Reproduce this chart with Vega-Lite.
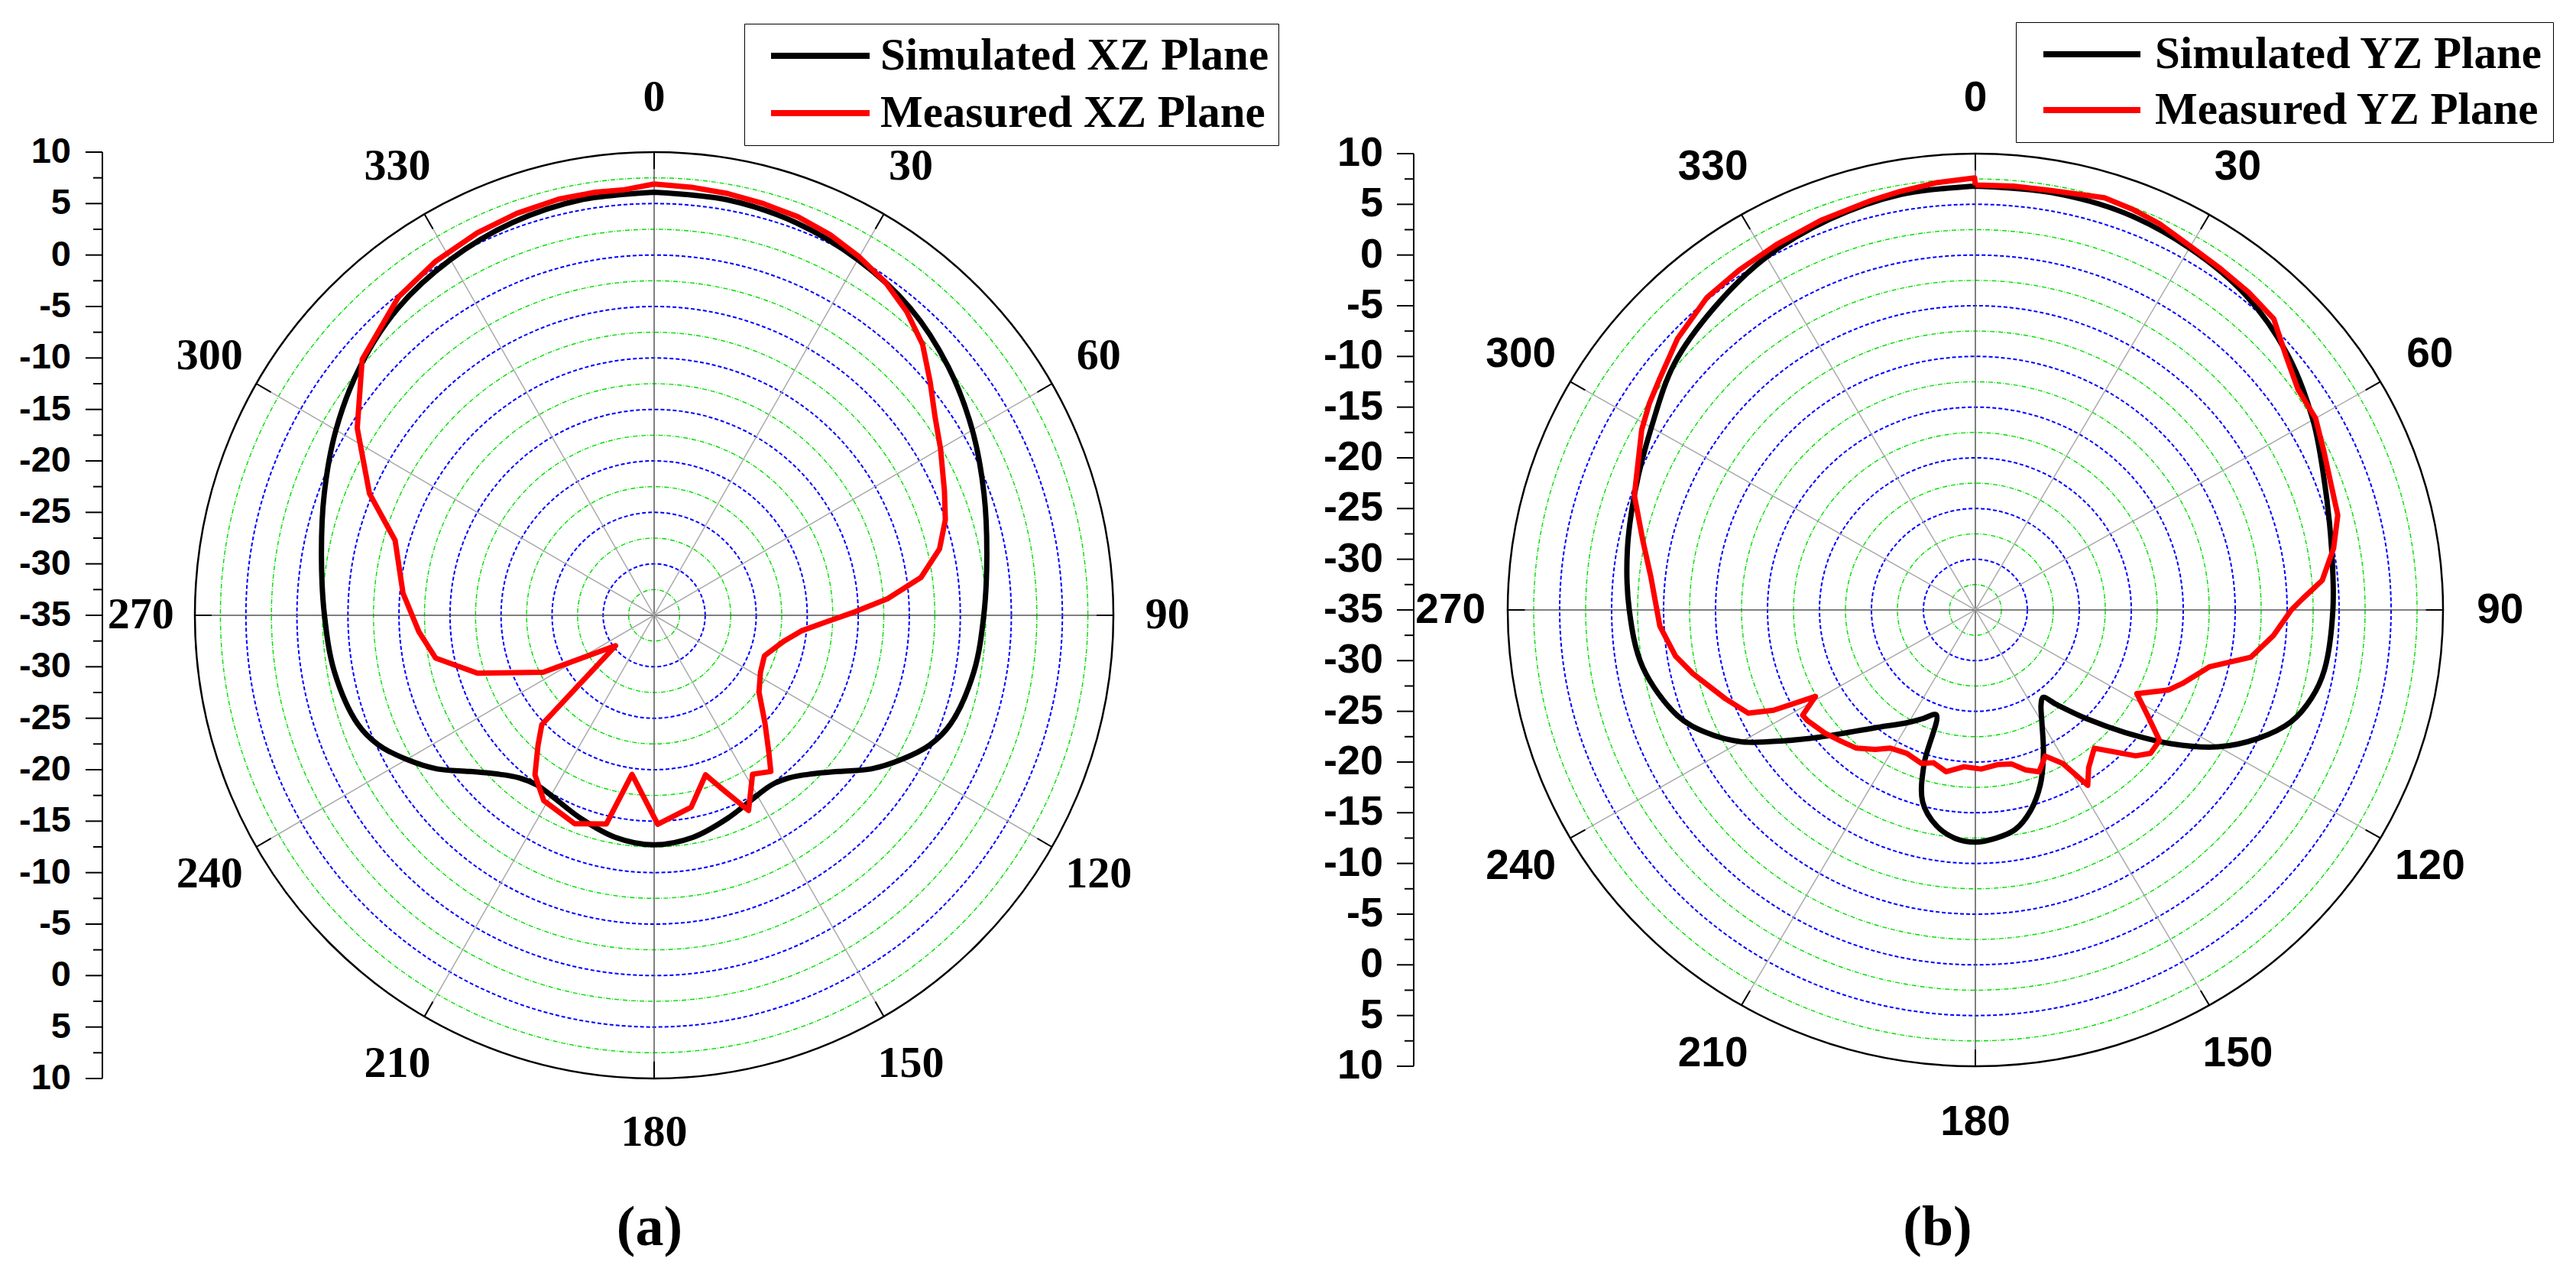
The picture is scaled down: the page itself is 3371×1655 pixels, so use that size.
{
  "$schema": "https://vega.github.io/schema/vega-lite/v6.json",
  "background": "white",
  "padding": 0,
  "spacing": 0,
  "bounds": "flush",
  "config": {"view": {"stroke": null}},
  "resolve": {"scale": {"x": "independent", "y": "independent", "color": "independent", "size": "independent"}},
  "datasets": {
    "ringsMinor": [{"r": 2.5}, {"r": 7.5}, {"r": 12.5}, {"r": 17.5}, {"r": 22.5}, {"r": 27.5}, {"r": 32.5}, {"r": 37.5}, {"r": 42.5}],
    "ringsMajor": [{"r": 5}, {"r": 10}, {"r": 15}, {"r": 20}, {"r": 25}, {"r": 30}, {"r": 35}, {"r": 40}],
    "ringOuter": [{"r": 45}],
    "axisTicks": [{"v": -45}, {"v": -42.5}, {"v": -40}, {"v": -37.5}, {"v": -35}, {"v": -32.5}, {"v": -30}, {"v": -27.5}, {"v": -25}, {"v": -22.5}, {"v": -20}, {"v": -17.5}, {"v": -15}, {"v": -12.5}, {"v": -10}, {"v": -7.5}, {"v": -5}, {"v": -2.5}, {"v": 0}, {"v": 2.5}, {"v": 5}, {"v": 7.5}, {"v": 10}, {"v": 12.5}, {"v": 15}, {"v": 17.5}, {"v": 20}, {"v": 22.5}, {"v": 25}, {"v": 27.5}, {"v": 30}, {"v": 32.5}, {"v": 35}, {"v": 37.5}, {"v": 40}, {"v": 42.5}, {"v": 45}],
    "spokes": [{"ang": 0}, {"ang": 30}, {"ang": 60}, {"ang": 90}, {"ang": 120}, {"ang": 150}, {"ang": 180}, {"ang": 210}, {"ang": 240}, {"ang": 270}, {"ang": 300}, {"ang": 330}],
    "aSim": [
      {"series": "Simulated XZ Plane", "ang": 0, "dB": 6.1}, {"series": "Simulated XZ Plane", "ang": 10, "dB": 6.0}, {"series": "Simulated XZ Plane", "ang": 20, "dB": 5.6}, {"series": "Simulated XZ Plane", "ang": 30, "dB": 4.9}, {"series": "Simulated XZ Plane", "ang": 40, "dB": 4.0}, {"series": "Simulated XZ Plane", "ang": 50, "dB": 2.6}, {"series": "Simulated XZ Plane", "ang": 60, "dB": 1.0}, {"series": "Simulated XZ Plane", "ang": 70, "dB": -0.6}, {"series": "Simulated XZ Plane", "ang": 80, "dB": -1.9}, {"series": "Simulated XZ Plane", "ang": 90, "dB": -2.7}, {"series": "Simulated XZ Plane", "ang": 100, "dB": -3.2}, {"series": "Simulated XZ Plane", "ang": 110, "dB": -4.1}, {"series": "Simulated XZ Plane", "ang": 115, "dB": -5.2}, {"series": "Simulated XZ Plane", "ang": 120, "dB": -7.0}, {"series": "Simulated XZ Plane", "ang": 125, "dB": -9.0}, {"series": "Simulated XZ Plane", "ang": 130, "dB": -11.4}, {"series": "Simulated XZ Plane", "ang": 135, "dB": -13.2}, {"series": "Simulated XZ Plane", "ang": 140, "dB": -14.4}, {"series": "Simulated XZ Plane", "ang": 145, "dB": -14.9}, {"series": "Simulated XZ Plane", "ang": 150, "dB": -14.8}, {"series": "Simulated XZ Plane", "ang": 160, "dB": -14.0}, {"series": "Simulated XZ Plane", "ang": 170, "dB": -13.1}, {"series": "Simulated XZ Plane", "ang": 180, "dB": -12.7}, {"series": "Simulated XZ Plane", "ang": 190, "dB": -13.1}, {"series": "Simulated XZ Plane", "ang": 200, "dB": -14.0}, {"series": "Simulated XZ Plane", "ang": 210, "dB": -14.8}, {"series": "Simulated XZ Plane", "ang": 215, "dB": -14.9}, {"series": "Simulated XZ Plane", "ang": 220, "dB": -14.4}, {"series": "Simulated XZ Plane", "ang": 225, "dB": -13.2}, {"series": "Simulated XZ Plane", "ang": 230, "dB": -11.4}, {"series": "Simulated XZ Plane", "ang": 235, "dB": -9.0}, {"series": "Simulated XZ Plane", "ang": 240, "dB": -7.0}, {"series": "Simulated XZ Plane", "ang": 245, "dB": -5.2}, {"series": "Simulated XZ Plane", "ang": 250, "dB": -4.1}, {"series": "Simulated XZ Plane", "ang": 260, "dB": -3.2}, {"series": "Simulated XZ Plane", "ang": 270, "dB": -2.7}, {"series": "Simulated XZ Plane", "ang": 280, "dB": -1.9}, {"series": "Simulated XZ Plane", "ang": 290, "dB": -0.6}, {"series": "Simulated XZ Plane", "ang": 300, "dB": 1.0}, {"series": "Simulated XZ Plane", "ang": 310, "dB": 2.6}, {"series": "Simulated XZ Plane", "ang": 320, "dB": 4.0}, {"series": "Simulated XZ Plane", "ang": 330, "dB": 4.9}, {"series": "Simulated XZ Plane", "ang": 340, "dB": 5.6}, {"series": "Simulated XZ Plane", "ang": 350, "dB": 6.0}, {"series": "Simulated XZ Plane", "ang": 360, "dB": 6.1}
    ],
    "aMeas": [
      {"series": "Measured XZ Plane", "ang": 0, "dB": 6.9}, {"series": "Measured XZ Plane", "ang": 5, "dB": 6.75}, {"series": "Measured XZ Plane", "ang": 10, "dB": 6.6}, {"series": "Measured XZ Plane", "ang": 15, "dB": 6.4}, {"series": "Measured XZ Plane", "ang": 20, "dB": 6.2}, {"series": "Measured XZ Plane", "ang": 25, "dB": 5.8}, {"series": "Measured XZ Plane", "ang": 30, "dB": 5.2}, {"series": "Measured XZ Plane", "ang": 35, "dB": 4.5}, {"series": "Measured XZ Plane", "ang": 40, "dB": 3.5}, {"series": "Measured XZ Plane", "ang": 45, "dB": 2.2}, {"series": "Measured XZ Plane", "ang": 50, "dB": 0.3}, {"series": "Measured XZ Plane", "ang": 55, "dB": -1.4}, {"series": "Measured XZ Plane", "ang": 60, "dB": -2.6}, {"series": "Measured XZ Plane", "ang": 67, "dB": -4.1}, {"series": "Measured XZ Plane", "ang": 72, "dB": -5.0}, {"series": "Measured XZ Plane", "ang": 77, "dB": -6.3}, {"series": "Measured XZ Plane", "ang": 82, "dB": -8.6}, {"series": "Measured XZ Plane", "ang": 86, "dB": -12.1}, {"series": "Measured XZ Plane", "ang": 89, "dB": -15.3}, {"series": "Measured XZ Plane", "ang": 92, "dB": -18.0}, {"series": "Measured XZ Plane", "ang": 96, "dB": -20.5}, {"series": "Measured XZ Plane", "ang": 101, "dB": -22.0}, {"series": "Measured XZ Plane", "ang": 110, "dB": -23.5}, {"series": "Measured XZ Plane", "ang": 118, "dB": -23.2}, {"series": "Measured XZ Plane", "ang": 126, "dB": -22.3}, {"series": "Measured XZ Plane", "ang": 134, "dB": -19.9}, {"series": "Measured XZ Plane", "ang": 140, "dB": -17.5}, {"series": "Measured XZ Plane", "ang": 143, "dB": -16.0}, {"series": "Measured XZ Plane", "ang": 148, "dB": -16.8}, {"series": "Measured XZ Plane", "ang": 154, "dB": -13.9}, {"series": "Measured XZ Plane", "ang": 158, "dB": -16.6}, {"series": "Measured XZ Plane", "ang": 162, "dB": -18.7}, {"series": "Measured XZ Plane", "ang": 169, "dB": -16.0}, {"series": "Measured XZ Plane", "ang": 179, "dB": -14.7}, {"series": "Measured XZ Plane", "ang": 188, "dB": -19.4}, {"series": "Measured XZ Plane", "ang": 193, "dB": -14.2}, {"series": "Measured XZ Plane", "ang": 201, "dB": -13.3}, {"series": "Measured XZ Plane", "ang": 211, "dB": -14.0}, {"series": "Measured XZ Plane", "ang": 217, "dB": -15.6}, {"series": "Measured XZ Plane", "ang": 222, "dB": -18.0}, {"series": "Measured XZ Plane", "ang": 226, "dB": -19.7}, {"series": "Measured XZ Plane", "ang": 232, "dB": -30.2}, {"series": "Measured XZ Plane", "ang": 243, "dB": -22.8}, {"series": "Measured XZ Plane", "ang": 252, "dB": -16.8}, {"series": "Measured XZ Plane", "ang": 259, "dB": -13.2}, {"series": "Measured XZ Plane", "ang": 266, "dB": -11.9}, {"series": "Measured XZ Plane", "ang": 275, "dB": -10.3}, {"series": "Measured XZ Plane", "ang": 286, "dB": -8.6}, {"series": "Measured XZ Plane", "ang": 293, "dB": -4.7}, {"series": "Measured XZ Plane", "ang": 302, "dB": -0.7}, {"series": "Measured XZ Plane", "ang": 311, "dB": 2.9}, {"series": "Measured XZ Plane", "ang": 321, "dB": 4.8}, {"series": "Measured XZ Plane", "ang": 328, "dB": 5.5}, {"series": "Measured XZ Plane", "ang": 335, "dB": 6.0}, {"series": "Measured XZ Plane", "ang": 341, "dB": 6.3}, {"series": "Measured XZ Plane", "ang": 347, "dB": 6.5}, {"series": "Measured XZ Plane", "ang": 352, "dB": 6.5}, {"series": "Measured XZ Plane", "ang": 356, "dB": 6.45}, {"series": "Measured XZ Plane", "ang": 360, "dB": 6.9}
    ],
    "bSim": [
      {"series": "Simulated YZ Plane", "ang": 0, "dB": 6.8}, {"series": "Simulated YZ Plane", "ang": 10, "dB": 6.8}, {"series": "Simulated YZ Plane", "ang": 20, "dB": 6.7}, {"series": "Simulated YZ Plane", "ang": 30, "dB": 6.2}, {"series": "Simulated YZ Plane", "ang": 40, "dB": 5.5}, {"series": "Simulated YZ Plane", "ang": 50, "dB": 4.2}, {"series": "Simulated YZ Plane", "ang": 60, "dB": 2.5}, {"series": "Simulated YZ Plane", "ang": 70, "dB": 0.8}, {"series": "Simulated YZ Plane", "ang": 80, "dB": -0.2}, {"series": "Simulated YZ Plane", "ang": 90, "dB": -0.6}, {"series": "Simulated YZ Plane", "ang": 100, "dB": -0.9}, {"series": "Simulated YZ Plane", "ang": 105, "dB": -1.5}, {"series": "Simulated YZ Plane", "ang": 110, "dB": -2.7}, {"series": "Simulated YZ Plane", "ang": 115, "dB": -5.0}, {"series": "Simulated YZ Plane", "ang": 120, "dB": -8.0}, {"series": "Simulated YZ Plane", "ang": 125, "dB": -12.0}, {"series": "Simulated YZ Plane", "ang": 130, "dB": -16.2}, {"series": "Simulated YZ Plane", "ang": 135, "dB": -19.8}, {"series": "Simulated YZ Plane", "ang": 140, "dB": -22.8}, {"series": "Simulated YZ Plane", "ang": 143, "dB": -24.2}, {"series": "Simulated YZ Plane", "ang": 146, "dB": -23.7}, {"series": "Simulated YZ Plane", "ang": 150, "dB": -22.2}, {"series": "Simulated YZ Plane", "ang": 155, "dB": -19.5}, {"series": "Simulated YZ Plane", "ang": 160, "dB": -16.7}, {"series": "Simulated YZ Plane", "ang": 165, "dB": -14.5}, {"series": "Simulated YZ Plane", "ang": 170, "dB": -13.0}, {"series": "Simulated YZ Plane", "ang": 175, "dB": -12.4}, {"series": "Simulated YZ Plane", "ang": 180, "dB": -12.1}, {"series": "Simulated YZ Plane", "ang": 185, "dB": -12.4}, {"series": "Simulated YZ Plane", "ang": 190, "dB": -13.4}, {"series": "Simulated YZ Plane", "ang": 195, "dB": -15.4}, {"series": "Simulated YZ Plane", "ang": 198, "dB": -19.0}, {"series": "Simulated YZ Plane", "ang": 200, "dB": -24.0}, {"series": "Simulated YZ Plane", "ang": 205, "dB": -23.2}, {"series": "Simulated YZ Plane", "ang": 210, "dB": -22.2}, {"series": "Simulated YZ Plane", "ang": 220, "dB": -19.8}, {"series": "Simulated YZ Plane", "ang": 230, "dB": -15.5}, {"series": "Simulated YZ Plane", "ang": 235, "dB": -12.5}, {"series": "Simulated YZ Plane", "ang": 240, "dB": -9.0}, {"series": "Simulated YZ Plane", "ang": 245, "dB": -6.4}, {"series": "Simulated YZ Plane", "ang": 250, "dB": -4.5}, {"series": "Simulated YZ Plane", "ang": 260, "dB": -2.5}, {"series": "Simulated YZ Plane", "ang": 270, "dB": -1.7}, {"series": "Simulated YZ Plane", "ang": 280, "dB": -1.0}, {"series": "Simulated YZ Plane", "ang": 290, "dB": -0.2}, {"series": "Simulated YZ Plane", "ang": 300, "dB": 1.0}, {"series": "Simulated YZ Plane", "ang": 310, "dB": 2.8}, {"series": "Simulated YZ Plane", "ang": 320, "dB": 4.0}, {"series": "Simulated YZ Plane", "ang": 330, "dB": 5.2}, {"series": "Simulated YZ Plane", "ang": 340, "dB": 6.0}, {"series": "Simulated YZ Plane", "ang": 350, "dB": 6.6}, {"series": "Simulated YZ Plane", "ang": 360, "dB": 6.8}
    ],
    "bMeas": [
      {"series": "Measured YZ Plane", "ang": 0, "dB": 6.9}, {"series": "Measured YZ Plane", "ang": 5, "dB": 6.95}, {"series": "Measured YZ Plane", "ang": 10, "dB": 7.0}, {"series": "Measured YZ Plane", "ang": 17, "dB": 7.5}, {"series": "Measured YZ Plane", "ang": 21, "dB": 7.3}, {"series": "Measured YZ Plane", "ang": 25, "dB": 7.0}, {"series": "Measured YZ Plane", "ang": 30, "dB": 6.4}, {"series": "Measured YZ Plane", "ang": 35, "dB": 6.1}, {"series": "Measured YZ Plane", "ang": 40, "dB": 5.9}, {"series": "Measured YZ Plane", "ang": 45, "dB": 5.6}, {"series": "Measured YZ Plane", "ang": 50, "dB": 4.0}, {"series": "Measured YZ Plane", "ang": 55, "dB": 2.9}, {"series": "Measured YZ Plane", "ang": 60, "dB": 2.8}, {"series": "Measured YZ Plane", "ang": 65, "dB": 2.0}, {"series": "Measured YZ Plane", "ang": 70, "dB": 1.4}, {"series": "Measured YZ Plane", "ang": 75, "dB": 1.1}, {"series": "Measured YZ Plane", "ang": 80, "dB": 0.0}, {"series": "Measured YZ Plane", "ang": 85, "dB": -1.5}, {"series": "Measured YZ Plane", "ang": 88, "dB": -3.5}, {"series": "Measured YZ Plane", "ang": 90, "dB": -4.6}, {"series": "Measured YZ Plane", "ang": 95, "dB": -6.2}, {"series": "Measured YZ Plane", "ang": 100, "dB": -8.1}, {"series": "Measured YZ Plane", "ang": 104, "dB": -11.8}, {"series": "Measured YZ Plane", "ang": 110, "dB": -13.8}, {"series": "Measured YZ Plane", "ang": 113, "dB": -14.8}, {"series": "Measured YZ Plane", "ang": 118, "dB": -17.4}, {"series": "Measured YZ Plane", "ang": 122, "dB": -15.5}, {"series": "Measured YZ Plane", "ang": 126, "dB": -13.1}, {"series": "Measured YZ Plane", "ang": 130, "dB": -13.0}, {"series": "Measured YZ Plane", "ang": 133, "dB": -13.9}, {"series": "Measured YZ Plane", "ang": 140, "dB": -17.2}, {"series": "Measured YZ Plane", "ang": 145, "dB": -16.0}, {"series": "Measured YZ Plane", "ang": 148, "dB": -14.6}, {"series": "Measured YZ Plane", "ang": 151, "dB": -17.7}, {"series": "Measured YZ Plane", "ang": 155, "dB": -19.1}, {"series": "Measured YZ Plane", "ang": 159, "dB": -17.9}, {"series": "Measured YZ Plane", "ang": 163, "dB": -18.5}, {"series": "Measured YZ Plane", "ang": 167, "dB": -19.4}, {"series": "Measured YZ Plane", "ang": 172, "dB": -19.6}, {"series": "Measured YZ Plane", "ang": 178, "dB": -19.3}, {"series": "Measured YZ Plane", "ang": 184, "dB": -19.5}, {"series": "Measured YZ Plane", "ang": 190, "dB": -18.8}, {"series": "Measured YZ Plane", "ang": 195, "dB": -19.4}, {"series": "Measured YZ Plane", "ang": 199, "dB": -19.0}, {"series": "Measured YZ Plane", "ang": 205, "dB": -19.4}, {"series": "Measured YZ Plane", "ang": 211, "dB": -19.1}, {"series": "Measured YZ Plane", "ang": 215, "dB": -18.2}, {"series": "Measured YZ Plane", "ang": 220, "dB": -17.2}, {"series": "Measured YZ Plane", "ang": 225, "dB": -16.7}, {"series": "Measured YZ Plane", "ang": 230, "dB": -16.1}, {"series": "Measured YZ Plane", "ang": 236, "dB": -15.5}, {"series": "Measured YZ Plane", "ang": 238, "dB": -15.4}, {"series": "Measured YZ Plane", "ang": 241, "dB": -17.4}, {"series": "Measured YZ Plane", "ang": 243, "dB": -13.2}, {"series": "Measured YZ Plane", "ang": 245, "dB": -10.9}, {"series": "Measured YZ Plane", "ang": 250, "dB": -9.4}, {"series": "Measured YZ Plane", "ang": 257, "dB": -7.1}, {"series": "Measured YZ Plane", "ang": 261, "dB": -5.8}, {"series": "Measured YZ Plane", "ang": 267, "dB": -4.6}, {"series": "Measured YZ Plane", "ang": 276, "dB": -3.6}, {"series": "Measured YZ Plane", "ang": 282, "dB": -2.3}, {"series": "Measured YZ Plane", "ang": 289, "dB": -0.3}, {"series": "Measured YZ Plane", "ang": 299, "dB": 1.7}, {"series": "Measured YZ Plane", "ang": 303, "dB": 2.4}, {"series": "Measured YZ Plane", "ang": 307, "dB": 3.0}, {"series": "Measured YZ Plane", "ang": 313, "dB": 4.2}, {"series": "Measured YZ Plane", "ang": 320, "dB": 5.2}, {"series": "Measured YZ Plane", "ang": 326, "dB": 5.5}, {"series": "Measured YZ Plane", "ang": 332, "dB": 5.8}, {"series": "Measured YZ Plane", "ang": 339, "dB": 6.2}, {"series": "Measured YZ Plane", "ang": 346, "dB": 6.6}, {"series": "Measured YZ Plane", "ang": 350, "dB": 6.9}, {"series": "Measured YZ Plane", "ang": 355, "dB": 7.3}, {"series": "Measured YZ Plane", "ang": 359.9, "dB": 7.6}, {"series": "Measured YZ Plane", "ang": 360, "dB": 6.9}
    ]
  },
  "hconcat": [
    {
      "width": 1700,
      "height": 1545,
      "title": {"text": "(a)", "orient": "bottom", "frame": "group", "offset": 26, "anchor": "middle", "font": "Liberation Serif", "fontSize": 74, "fontWeight": "bold", "color": "black"},
      "layer": [
        {
          "data": {"name": "ringsMinor"},
          "mark": {"type": "point", "shape": "M1,0C1,0.5569 0.5523,1.0083 0,1.0083C-0.5523,1.0083 -1,0.5569 -1,0C-1,-0.5569 -0.5523,-1.0083 0,-1.0083C0.5523,-1.0083 1,-0.5569 1,0Z", "filled": false, "color": "#00dd00", "strokeWidth": 1.4, "strokeDash": [6, 2, 1, 2], "opacity": 1},
          "encoding": {
            "x": {"datum": 0, "type": "quantitative", "scale": {"domain": [-64.09, 63.19], "nice": false, "zero": false}, "axis": null},
            "y": {"datum": 0, "type": "quantitative", "scale": {"domain": [-54.95, 59.776], "nice": false, "zero": false}, "axis": null},
            "size": {"field": "r", "type": "quantitative", "scale": {"type": "pow", "exponent": 2, "domain": [0, 45], "range": [0, 1444804], "zero": true}, "legend": null}
          }
        },
        {
          "data": {"name": "ringsMajor"},
          "mark": {"type": "point", "shape": "M1,0C1,0.5569 0.5523,1.0083 0,1.0083C-0.5523,1.0083 -1,0.5569 -1,0C-1,-0.5569 -0.5523,-1.0083 0,-1.0083C0.5523,-1.0083 1,-0.5569 1,0Z", "filled": false, "color": "#0000ff", "strokeWidth": 2, "strokeDash": [5, 3], "opacity": 1},
          "encoding": {
            "x": {"datum": 0, "type": "quantitative", "axis": null},
            "y": {"datum": 0, "type": "quantitative", "axis": null},
            "size": {"field": "r", "type": "quantitative", "legend": null}
          }
        },
        {
          "data": {"name": "spokes"},
          "transform": [{"calculate": "0", "as": "cx"}, {"calculate": "0", "as": "cy"}, {"calculate": "45*sin(datum.ang*PI/180)", "as": "sx"}, {"calculate": "45*cos(datum.ang*PI/180)", "as": "sy"}],
          "mark": {"type": "rule", "strokeWidth": 1.5},
          "encoding": {
            "x": {"field": "cx", "type": "quantitative", "axis": null},
            "y": {"field": "cy", "type": "quantitative", "axis": null},
            "x2": {"field": "sx"},
            "y2": {"field": "sy"},
            "color": {"condition": {"test": "datum.ang % 90 === 0", "value": "#555555"}, "value": "#aaaaaa"}
          }
        },
        {
          "data": {"name": "ringOuter"},
          "mark": {"type": "point", "shape": "M1,0C1,0.5569 0.5523,1.0083 0,1.0083C-0.5523,1.0083 -1,0.5569 -1,0C-1,-0.5569 -0.5523,-1.0083 0,-1.0083C0.5523,-1.0083 1,-0.5569 1,0Z", "filled": false, "color": "black", "strokeWidth": 2.5, "opacity": 1},
          "encoding": {
            "x": {"datum": 0, "type": "quantitative", "axis": null},
            "y": {"datum": 0, "type": "quantitative", "axis": null},
            "size": {"field": "r", "type": "quantitative", "legend": null}
          }
        },
        {
          "data": {"name": "spokes"},
          "transform": [
            {"calculate": "43.35*sin(datum.ang*PI/180)", "as": "tx1"}, {"calculate": "43.35*cos(datum.ang*PI/180)", "as": "ty1"},
            {"calculate": "45*sin(datum.ang*PI/180)", "as": "tx2"}, {"calculate": "45*cos(datum.ang*PI/180)", "as": "ty2"}],
          "mark": {"type": "rule", "strokeWidth": 2, "color": "black"},
          "encoding": {
            "x": {"field": "tx1", "type": "quantitative", "axis": null},
            "y": {"field": "ty1", "type": "quantitative", "axis": null},
            "x2": {"field": "tx2"},
            "y2": {"field": "ty2"}
          }
        },
        {
          "data": {"name": "ringOuter"},
          "transform": [{"calculate": "-54.06", "as": "ax"}, {"calculate": "-datum.r", "as": "ylo"}, {"calculate": "datum.r", "as": "yhi"}],
          "mark": {"type": "rule", "strokeWidth": 2, "color": "black"},
          "encoding": {
            "x": {"field": "ax", "type": "quantitative", "axis": null},
            "y": {"field": "ylo", "type": "quantitative", "axis": null},
            "y2": {"field": "yhi"}
          }
        },
        {
          "data": {"name": "axisTicks"},
          "transform": [{"calculate": "-54.06", "as": "ax1"}, {"calculate": "datum.v % 5 === 0 ? -55.71 : -54.96", "as": "ax2"}],
          "mark": {"type": "rule", "strokeWidth": 2, "color": "black"},
          "encoding": {
            "x": {"field": "ax1", "type": "quantitative", "axis": null},
            "x2": {"field": "ax2"},
            "y": {"field": "v", "type": "quantitative", "axis": null}
          }
        },
        {
          "data": {"name": "axisTicks"},
          "transform": [{"filter": "datum.v % 5 === 0"}, {"calculate": "abs(datum.v) - 35", "as": "lab"}, {"calculate": "-57.13", "as": "lxp"}],
          "mark": {"type": "text", "align": "right", "baseline": "middle", "font": "Liberation Sans", "fontWeight": "bold", "fontSize": 47, "color": "black"},
          "encoding": {
            "x": {"field": "lxp", "type": "quantitative", "axis": null},
            "y": {"field": "v", "type": "quantitative", "axis": null},
            "text": {"field": "lab", "type": "nominal"}
          }
        },
        {
          "data": {"name": "spokes"},
          "transform": [{"calculate": "50.3*sin(datum.ang*PI/180)", "as": "lx"}, {"calculate": "50.3*cos(datum.ang*PI/180)", "as": "ly"}],
          "mark": {"type": "text", "align": "center", "baseline": "middle", "font": "Liberation Serif", "fontWeight": "bold", "fontSize": 58, "color": "black"},
          "encoding": {
            "x": {"field": "lx", "type": "quantitative", "axis": null},
            "y": {"field": "ly", "type": "quantitative", "axis": null},
            "text": {"field": "ang", "type": "nominal"}
          }
        },
        {
          "data": {"name": "aSim"},
          "transform": [{"calculate": "(datum.dB + 35)*sin(datum.ang*PI/180)", "as": "gx"}, {"calculate": "(datum.dB + 35)*cos(datum.ang*PI/180)", "as": "gy"}],
          "mark": {"type": "line", "strokeWidth": 7, "interpolate": "catmull-rom", "strokeJoin": "round"},
          "encoding": {
            "x": {"field": "gx", "type": "quantitative", "axis": null},
            "y": {"field": "gy", "type": "quantitative", "axis": null},
            "order": {"field": "ang", "type": "quantitative"},
            "color": {"field": "series", "type": "nominal", "scale": {"domain": ["Simulated XZ Plane", "Measured XZ Plane"], "range": ["black", "#ff0000"]},
              "legend": {"title": null, "orient": "none", "legendX": 974, "legendY": 31, "direction": "vertical", "strokeColor": "black", "fillColor": "white", "padding": 12, "symbolType": "stroke", "symbolSize": 16641, "symbolStrokeWidth": 8, "symbolOffset": 19, "labelOffset": 10, "labelFont": "Liberation Serif", "labelFontWeight": "bold", "labelFontSize": 59, "labelColor": "black", "labelLimit": 800, "rowPadding": 15, "clipHeight": 60}}
          }
        },
        {
          "data": {"name": "aMeas"},
          "transform": [{"calculate": "(datum.dB + 35)*sin(datum.ang*PI/180)", "as": "gx"}, {"calculate": "(datum.dB + 35)*cos(datum.ang*PI/180)", "as": "gy"}],
          "mark": {"type": "line", "strokeWidth": 7, "strokeJoin": "round"},
          "encoding": {
            "x": {"field": "gx", "type": "quantitative", "axis": null},
            "y": {"field": "gy", "type": "quantitative", "axis": null},
            "order": {"field": "ang", "type": "quantitative"},
            "color": {"field": "series", "type": "nominal", "scale": {"domain": ["Simulated XZ Plane", "Measured XZ Plane"], "range": ["black", "#ff0000"]},
              "legend": {"title": null, "orient": "none", "legendX": 974, "legendY": 31, "direction": "vertical", "strokeColor": "black", "fillColor": "white", "padding": 12, "symbolType": "stroke", "symbolSize": 16641, "symbolStrokeWidth": 8, "symbolOffset": 19, "labelOffset": 10, "labelFont": "Liberation Serif", "labelFontWeight": "bold", "labelFontSize": 59, "labelColor": "black", "labelLimit": 800, "rowPadding": 15, "clipHeight": 60}}
          }
        }
      ]
    },
    {
      "width": 1671,
      "height": 1545,
      "title": {"text": "(b)", "orient": "bottom", "frame": "group", "offset": 26, "anchor": "middle", "font": "Liberation Serif", "fontSize": 74, "fontWeight": "bold", "color": "black"},
      "layer": [
        {
          "data": {"name": "ringsMinor"},
          "mark": {"type": "point", "shape": "M1,0C1,0.5388 0.5523,0.9755 0,0.9755C-0.5523,0.9755 -1,0.5388 -1,0C-1,-0.5388 -0.5523,-0.9755 0,-0.9755C0.5523,-0.9755 1,-0.5388 1,0Z", "filled": false, "color": "#00dd00", "strokeWidth": 1.4, "strokeDash": [6, 2, 1, 2], "opacity": 1},
          "encoding": {
            "x": {"datum": 0, "type": "quantitative", "scale": {"domain": [-65.07, 57.79], "nice": false, "zero": false}, "axis": null},
            "y": {"datum": 0, "type": "quantitative", "scale": {"domain": [-56.31, 60.15], "nice": false, "zero": false}, "axis": null},
            "size": {"field": "r", "type": "quantitative", "scale": {"type": "pow", "exponent": 2, "domain": [0, 45], "range": [0, 1498176], "zero": true}, "legend": null}
          }
        },
        {
          "data": {"name": "ringsMajor"},
          "mark": {"type": "point", "shape": "M1,0C1,0.5388 0.5523,0.9755 0,0.9755C-0.5523,0.9755 -1,0.5388 -1,0C-1,-0.5388 -0.5523,-0.9755 0,-0.9755C0.5523,-0.9755 1,-0.5388 1,0Z", "filled": false, "color": "#0000ff", "strokeWidth": 2, "strokeDash": [5, 3], "opacity": 1},
          "encoding": {
            "x": {"datum": 0, "type": "quantitative", "axis": null},
            "y": {"datum": 0, "type": "quantitative", "axis": null},
            "size": {"field": "r", "type": "quantitative", "legend": null}
          }
        },
        {
          "data": {"name": "spokes"},
          "transform": [{"calculate": "0", "as": "cx"}, {"calculate": "0", "as": "cy"}, {"calculate": "45*sin(datum.ang*PI/180)", "as": "sx"}, {"calculate": "45*cos(datum.ang*PI/180)", "as": "sy"}],
          "mark": {"type": "rule", "strokeWidth": 1.5},
          "encoding": {
            "x": {"field": "cx", "type": "quantitative", "axis": null},
            "y": {"field": "cy", "type": "quantitative", "axis": null},
            "x2": {"field": "sx"},
            "y2": {"field": "sy"},
            "color": {"condition": {"test": "datum.ang % 90 === 0", "value": "#555555"}, "value": "#aaaaaa"}
          }
        },
        {
          "data": {"name": "ringOuter"},
          "mark": {"type": "point", "shape": "M1,0C1,0.5388 0.5523,0.9755 0,0.9755C-0.5523,0.9755 -1,0.5388 -1,0C-1,-0.5388 -0.5523,-0.9755 0,-0.9755C0.5523,-0.9755 1,-0.5388 1,0Z", "filled": false, "color": "black", "strokeWidth": 2.5, "opacity": 1},
          "encoding": {
            "x": {"datum": 0, "type": "quantitative", "axis": null},
            "y": {"datum": 0, "type": "quantitative", "axis": null},
            "size": {"field": "r", "type": "quantitative", "legend": null}
          }
        },
        {
          "data": {"name": "spokes"},
          "transform": [
            {"calculate": "43.35*sin(datum.ang*PI/180)", "as": "tx1"}, {"calculate": "43.35*cos(datum.ang*PI/180)", "as": "ty1"},
            {"calculate": "45*sin(datum.ang*PI/180)", "as": "tx2"}, {"calculate": "45*cos(datum.ang*PI/180)", "as": "ty2"}],
          "mark": {"type": "rule", "strokeWidth": 2, "color": "black"},
          "encoding": {
            "x": {"field": "tx1", "type": "quantitative", "axis": null},
            "y": {"field": "ty1", "type": "quantitative", "axis": null},
            "x2": {"field": "tx2"},
            "y2": {"field": "ty2"}
          }
        },
        {
          "data": {"name": "ringOuter"},
          "transform": [{"calculate": "-54.04", "as": "ax"}, {"calculate": "-datum.r", "as": "ylo"}, {"calculate": "datum.r", "as": "yhi"}],
          "mark": {"type": "rule", "strokeWidth": 2, "color": "black"},
          "encoding": {
            "x": {"field": "ax", "type": "quantitative", "axis": null},
            "y": {"field": "ylo", "type": "quantitative", "axis": null},
            "y2": {"field": "yhi"}
          }
        },
        {
          "data": {"name": "axisTicks"},
          "transform": [{"calculate": "-54.04", "as": "ax1"}, {"calculate": "datum.v % 5 === 0 ? -55.66 : -54.92", "as": "ax2"}],
          "mark": {"type": "rule", "strokeWidth": 2, "color": "black"},
          "encoding": {
            "x": {"field": "ax1", "type": "quantitative", "axis": null},
            "x2": {"field": "ax2"},
            "y": {"field": "v", "type": "quantitative", "axis": null}
          }
        },
        {
          "data": {"name": "axisTicks"},
          "transform": [{"filter": "datum.v % 5 === 0"}, {"calculate": "abs(datum.v) - 35", "as": "lab"}, {"calculate": "-56.98", "as": "lxp"}],
          "mark": {"type": "text", "align": "right", "baseline": "middle", "font": "Liberation Sans", "fontWeight": "bold", "fontSize": 54, "color": "black"},
          "encoding": {
            "x": {"field": "lxp", "type": "quantitative", "axis": null},
            "y": {"field": "v", "type": "quantitative", "axis": null},
            "text": {"field": "lab", "type": "nominal"}
          }
        },
        {
          "data": {"name": "spokes"},
          "transform": [{"calculate": "50.5*sin(datum.ang*PI/180)", "as": "lx"}, {"calculate": "50.5*cos(datum.ang*PI/180)", "as": "ly"}],
          "mark": {"type": "text", "align": "center", "baseline": "middle", "font": "Liberation Sans", "fontWeight": "bold", "fontSize": 55, "color": "black"},
          "encoding": {
            "x": {"field": "lx", "type": "quantitative", "axis": null},
            "y": {"field": "ly", "type": "quantitative", "axis": null},
            "text": {"field": "ang", "type": "nominal"}
          }
        },
        {
          "data": {"name": "bSim"},
          "transform": [{"calculate": "(datum.dB + 35)*sin(datum.ang*PI/180)", "as": "gx"}, {"calculate": "(datum.dB + 35)*cos(datum.ang*PI/180)", "as": "gy"}],
          "mark": {"type": "line", "strokeWidth": 7, "interpolate": "catmull-rom", "strokeJoin": "round"},
          "encoding": {
            "x": {"field": "gx", "type": "quantitative", "axis": null},
            "y": {"field": "gy", "type": "quantitative", "axis": null},
            "order": {"field": "ang", "type": "quantitative"},
            "color": {"field": "series", "type": "nominal", "scale": {"domain": ["Simulated YZ Plane", "Measured YZ Plane"], "range": ["black", "#ff0000"]},
              "legend": {"title": null, "orient": "none", "legendX": 938, "legendY": 29, "direction": "vertical", "strokeColor": "black", "fillColor": "white", "padding": 12, "symbolType": "stroke", "symbolSize": 16129, "symbolStrokeWidth": 8, "symbolOffset": 20, "labelOffset": 15, "labelFont": "Liberation Serif", "labelFontWeight": "bold", "labelFontSize": 59, "labelColor": "black", "labelLimit": 800, "rowPadding": 13, "clipHeight": 60}}
          }
        },
        {
          "data": {"name": "bMeas"},
          "transform": [{"calculate": "(datum.dB + 35)*sin(datum.ang*PI/180)", "as": "gx"}, {"calculate": "(datum.dB + 35)*cos(datum.ang*PI/180)", "as": "gy"}],
          "mark": {"type": "line", "strokeWidth": 7, "strokeJoin": "round"},
          "encoding": {
            "x": {"field": "gx", "type": "quantitative", "axis": null},
            "y": {"field": "gy", "type": "quantitative", "axis": null},
            "order": {"field": "ang", "type": "quantitative"},
            "color": {"field": "series", "type": "nominal", "scale": {"domain": ["Simulated YZ Plane", "Measured YZ Plane"], "range": ["black", "#ff0000"]},
              "legend": {"title": null, "orient": "none", "legendX": 938, "legendY": 29, "direction": "vertical", "strokeColor": "black", "fillColor": "white", "padding": 12, "symbolType": "stroke", "symbolSize": 16129, "symbolStrokeWidth": 8, "symbolOffset": 20, "labelOffset": 15, "labelFont": "Liberation Serif", "labelFontWeight": "bold", "labelFontSize": 59, "labelColor": "black", "labelLimit": 800, "rowPadding": 13, "clipHeight": 60}}
          }
        }
      ]
    }
  ]
}
